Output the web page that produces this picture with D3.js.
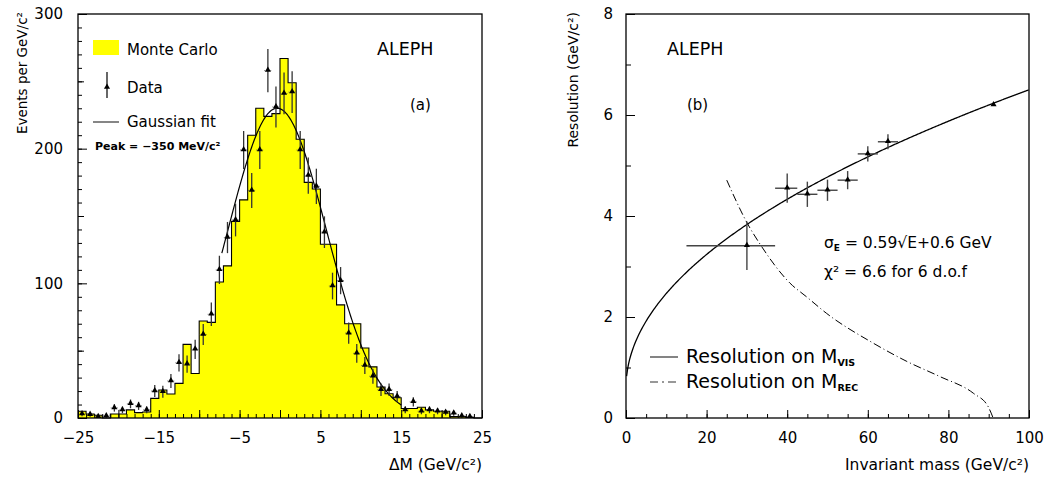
<!DOCTYPE html>
<html>
<head>
<meta charset="utf-8">
<script src="https://cdn.jsdelivr.net/npm/d3@7"></script>
<style>
  body { margin: 0; background: #fff; }
  text { font-family: "DejaVu Sans", sans-serif; fill: #000; }
</style>
</head>
<body>
<svg id="chart" width="1046" height="477"></svg>
<script>
// ---- panel (a): Delta M histogram, 1 GeV bins from -25 to 25 ----
var binLow = d3.range(-25, 25);
var mcCounts = [5, 3, 2, 0, 3, 3, 6, 4, 4.5, 14.6,
                20.8, 17.8, 25.7, 54.7, 33, 72, 71, 101, 113, 146,
                162, 210, 230, 224, 226, 267, 249, 207, 175, 170,
                129, 129, 84, 70, 70, 52, 38, 23, 18, 15,
                7, 7, 8, 6, 5, 5, 1, 1, 0.5, 0];
var dataCounts = [3, 2.5, 1, 1.5, 7.5, 6, 10.5, 9, 6, 20,
                  19.5, 27.5, 41, 40, 51, 62, 77, 110, 134, 147,
                  199, 169, 199, 258, 231, 241, 242, 199, 180, 172,
                  138, 98, 102, 63, 48, 39, 31, 21, 21, 16,
                  6, 12, 5, 6, 5, 4, 3.5, 1.5, 1, null];
// gaussian fit parameters (peak = -350 MeV)
var fitAmp = 230, fitMean = -0.35, fitSigma = 6.1, fitRange = [-7.2, 15];

// ---- panel (b): resolution vs invariant mass ----
var massPts = [30, 40, 45, 50, 55, 60, 65, 91.2];
var massLo  = [15, 37, 42.5, 47.5, 52.5, 57.5, 62.5, 91.2];
var massHi  = [37, 42.5, 47.5, 52.5, 57.5, 62.5, 67.5, 91.2];
var resVals = [3.41, 4.55, 4.43, 4.51, 4.71, 5.23, 5.47, 6.2];
var resErr  = [0.48, 0.29, 0.25, 0.21, 0.18, 0.15, 0.15, 0];
// resolution on M_REC (dash-dotted curve)
var recMass = [25, 30, 33.7, 40.7, 44.8, 49.8, 61.4, 69.7, 77.9, 86.2, 89.9, 91.1];
var recRes  = [4.71, 3.87, 3.39, 2.67, 2.40, 2.07, 1.48, 1.12, 0.82, 0.49, 0.22, 0];
var visA = 0.59, visB = 0.6;

var svg = d3.select("#chart");

// ================= panel (a) =================
var xL = d3.scaleLinear().domain([-25, 25]).range([78, 482]);
var yL = d3.scaleLinear().domain([0, 300]).range([418, 14]);

var gA = svg.append("g");

// histogram: step points incl. closing edge
var stepPts = binLow.map(function(b, i) { return [b, mcCounts[i]]; });
stepPts.push([25, mcCounts[mcCounts.length - 1]]);

gA.append("path")
  .datum(stepPts)
  .attr("fill", "#ffff00")
  .attr("d", d3.area().curve(d3.curveStepAfter)
      .x(function(d) { return xL(d[0]); })
      .y0(yL(0))
      .y1(function(d) { return yL(d[1]); }));

gA.append("path")
  .datum(stepPts)
  .attr("fill", "none")
  .attr("stroke", "#000")
  .attr("stroke-width", 1.1)
  .attr("d", d3.line().curve(d3.curveStepAfter)
      .x(function(d) { return xL(d[0]); })
      .y(function(d) { return yL(d[1]); }));

// gaussian fit
var gaussPts = d3.range(fitRange[0], fitRange[1] + 0.001, 0.1).map(function(x) {
  return [x, fitAmp * Math.exp(-(x - fitMean) * (x - fitMean) / (2 * fitSigma * fitSigma))];
});
gA.append("path")
  .datum(gaussPts)
  .attr("fill", "none")
  .attr("stroke", "#000")
  .attr("stroke-width", 1.2)
  .attr("d", d3.line()
      .x(function(d) { return xL(d[0]); })
      .y(function(d) { return yL(d[1]); }));

// data points
var tri = d3.symbol().type(d3.symbolTriangle).size(16);
var pts = binLow.map(function(b, i) { return { x: b + 0.5, y: dataCounts[i] }; })
  .filter(function(d) { return d.y !== null; });

var ptG = gA.selectAll(".pt").data(pts).enter().append("g")
  .attr("class", "pt");
ptG.append("line")
  .attr("x1", function(d) { return xL(d.x); })
  .attr("x2", function(d) { return xL(d.x); })
  .attr("y1", function(d) { return yL(Math.max(0, d.y - Math.sqrt(d.y))); })
  .attr("y2", function(d) { return yL(d.y + Math.sqrt(d.y)); })
  .attr("stroke", "#333")
  .attr("stroke-width", 1.3);
ptG.append("line")
  .attr("x1", function(d) { return xL(d.x - 0.45); })
  .attr("x2", function(d) { return xL(d.x + 0.45); })
  .attr("y1", function(d) { return yL(d.y); })
  .attr("y2", function(d) { return yL(d.y); })
  .attr("stroke", "#555")
  .attr("stroke-width", 0.8)
  .attr("stroke-dasharray", "1,2");
ptG.append("path")
  .attr("d", tri)
  .attr("transform", function(d) { return "translate(" + xL(d.x) + "," + (yL(d.y) - 0.5) + ")"; })
  .attr("fill", "#000");

// axes (ticks pointing inside)
gA.append("g")
  .attr("transform", "translate(0,418)")
  .call(d3.axisBottom(xL).tickValues(d3.range(-25, 26, 1)).tickSize(-4).tickFormat(""))
  .call(function(g) { g.select(".domain").remove(); });
gA.append("g")
  .attr("transform", "translate(0,418)")
  .call(d3.axisBottom(xL).tickValues(d3.range(-25, 26, 5)).tickSizeInner(-8).tickSizeOuter(0).tickPadding(14)
      .tickFormat(function(d) { return (d + 25) % 10 === 0 ? d3.format("d")(d) : ""; }))
  .call(function(g) { g.select(".domain").remove(); g.selectAll("text").style("font-size", "15px"); });

gA.append("g")
  .attr("transform", "translate(78,0)")
  .call(d3.axisLeft(yL).tickValues(d3.range(0, 301, 10)).tickSize(-4).tickFormat(""))
  .call(function(g) { g.select(".domain").remove(); });
gA.append("g")
  .attr("transform", "translate(78,0)")
  .call(d3.axisLeft(yL).tickValues(d3.range(50, 300, 100)).tickSize(-6).tickFormat(""))
  .call(function(g) { g.select(".domain").remove(); });
gA.append("g")
  .attr("transform", "translate(78,0)")
  .call(d3.axisLeft(yL).tickValues([0, 100, 200, 300]).tickSizeInner(-9).tickSizeOuter(0).tickPadding(15))
  .call(function(g) { g.select(".domain").remove(); g.selectAll("text").style("font-size", "15px"); });

gA.selectAll(".tick line").attr("stroke", "#000");

gA.append("rect")
  .attr("x", 78).attr("y", 14).attr("width", 404).attr("height", 404)
  .attr("fill", "none").attr("stroke", "#000").attr("stroke-width", 1.3);

gA.append("text")
  .attr("transform", "translate(27,12) rotate(-90)")
  .attr("text-anchor", "end")
  .style("font-size", "13.5px")
  .text("Events per GeV/c²");
gA.append("text")
  .attr("x", 482).attr("y", 470)
  .attr("text-anchor", "end")
  .style("font-size", "15.5px")
  .text("ΔM (GeV/c²)");

// legend (a)
gA.append("rect").attr("x", 93).attr("y", 40).attr("width", 26).attr("height", 15)
  .attr("fill", "#ffff00");
gA.append("text").attr("x", 127).attr("y", 55).style("font-size", "15px").text("Monte Carlo");
gA.append("line").attr("x1", 107).attr("x2", 107).attr("y1", 72).attr("y2", 98)
  .attr("stroke", "#000").attr("stroke-width", 1.2);
gA.append("path").attr("d", tri).attr("transform", "translate(107,87)").attr("fill", "#000");
gA.append("text").attr("x", 127).attr("y", 93).style("font-size", "15px").text("Data");
gA.append("line").attr("x1", 93).attr("x2", 119).attr("y1", 122).attr("y2", 122)
  .attr("stroke", "#444").attr("stroke-width", 1.3);
gA.append("text").attr("x", 127).attr("y", 127).style("font-size", "15px").text("Gaussian fit");
gA.append("text").attr("x", 95).attr("y", 150)
  .style("font-size", "11px").style("font-weight", "bold")
  .text("Peak = −350 MeV/c²");

gA.append("text").attr("x", 377).attr("y", 55).style("font-size", "17.5px").text("ALEPH");
gA.append("text").attr("x", 410).attr("y", 110).style("font-size", "15px").text("(a)");

// ================= panel (b) =================
var xR = d3.scaleLinear().domain([0, 100]).range([626, 1029]);
var yR = d3.scaleLinear().domain([0, 8]).range([418, 14]);

var gB = svg.append("g");

// sigma_E = 0.59 sqrt(E) + 0.6 fit
var visPts = d3.range(0.15, 100.001, 0.25).map(function(e) {
  return [e, visA * Math.sqrt(e) + visB];
});
gB.append("path")
  .datum(visPts)
  .attr("fill", "none")
  .attr("stroke", "#000")
  .attr("stroke-width", 1.3)
  .attr("d", d3.line()
      .x(function(d) { return xR(d[0]); })
      .y(function(d) { return yR(d[1]); }));

gB.append("path")
  .datum(recMass.map(function(m, i) { return [m, recRes[i]]; }))
  .attr("fill", "none")
  .attr("stroke", "#000")
  .attr("stroke-width", 1)
  .attr("stroke-dasharray", "8,3,1,3")
  .attr("d", d3.line().curve(d3.curveMonotoneX)
      .x(function(d) { return xR(d[0]); })
      .y(function(d) { return yR(d[1]); }));

var rPts = massPts.map(function(m, i) {
  return { m: m, lo: massLo[i], hi: massHi[i], r: resVals[i], e: resErr[i] };
});
var rG = gB.selectAll(".rpt").data(rPts).enter().append("g").attr("class", "rpt");
rG.append("line")
  .attr("x1", function(d) { return xR(d.lo); })
  .attr("x2", function(d) { return xR(d.hi); })
  .attr("y1", function(d) { return yR(d.r); })
  .attr("y2", function(d) { return yR(d.r); })
  .attr("stroke", "#444").attr("stroke-width", 1.4);
rG.append("line")
  .attr("x1", function(d) { return xR(d.m); })
  .attr("x2", function(d) { return xR(d.m); })
  .attr("y1", function(d) { return yR(d.r - d.e); })
  .attr("y2", function(d) { return yR(d.r + d.e); })
  .attr("stroke", "#444").attr("stroke-width", 1.4);
rG.append("path")
  .attr("d", tri)
  .attr("transform", function(d) { return "translate(" + xR(d.m) + "," + (yR(d.r) - 0.5) + ")"; })
  .attr("fill", "#000");

gB.append("g")
  .attr("transform", "translate(0,418)")
  .call(d3.axisBottom(xR).tickValues(d3.range(0, 101, 5)).tickSize(-4).tickFormat(""))
  .call(function(g) { g.select(".domain").remove(); });
gB.append("g")
  .attr("transform", "translate(0,418)")
  .call(d3.axisBottom(xR).tickValues(d3.range(0, 101, 20)).tickSizeInner(-8).tickSizeOuter(0).tickPadding(14))
  .call(function(g) { g.select(".domain").remove(); g.selectAll("text").style("font-size", "15px"); });
gB.append("g")
  .attr("transform", "translate(626,0)")
  .call(d3.axisLeft(yR).tickValues(d3.range(0, 9, 1)).tickSize(-5).tickFormat(""))
  .call(function(g) { g.select(".domain").remove(); });
gB.append("g")
  .attr("transform", "translate(626,0)")
  .call(d3.axisLeft(yR).tickValues(d3.range(0, 9, 2)).tickSizeInner(-9).tickSizeOuter(0).tickPadding(13))
  .call(function(g) { g.select(".domain").remove(); g.selectAll("text").style("font-size", "15px"); });

gB.selectAll(".tick line").attr("stroke", "#000");

gB.append("rect")
  .attr("x", 626).attr("y", 14).attr("width", 403).attr("height", 404)
  .attr("fill", "none").attr("stroke", "#000").attr("stroke-width", 1.3);

gB.append("text")
  .attr("transform", "translate(578,12) rotate(-90)")
  .attr("text-anchor", "end")
  .style("font-size", "14px")
  .text("Resolution (GeV/c²)");
gB.append("text")
  .attr("x", 1029).attr("y", 470)
  .attr("text-anchor", "end")
  .style("font-size", "15.5px")
  .text("Invariant mass (GeV/c²)");

gB.append("text").attr("x", 667).attr("y", 55).style("font-size", "17.5px").text("ALEPH");
gB.append("text").attr("x", 687).attr("y", 110).style("font-size", "15px").text("(b)");

var sig = gB.append("text").attr("x", 824).attr("y", 248).style("font-size", "15.5px");
sig.append("tspan").text("σ");
sig.append("tspan").attr("dy", 3).style("font-size", "9px").style("font-weight", "bold").text("E");
sig.append("tspan").attr("dy", -3).text(" = 0.59√E+0.6 GeV");
gB.append("text").attr("x", 824).attr("y", 277).style("font-size", "15.5px").text("χ² = 6.6 for 6 d.o.f");

// legend (b)
gB.append("line").attr("x1", 650).attr("x2", 678).attr("y1", 357).attr("y2", 357)
  .attr("stroke", "#333").attr("stroke-width", 1.2);
var l1 = gB.append("text").attr("x", 686).attr("y", 363).style("font-size", "19px");
l1.append("tspan").text("Resolution on M");
l1.append("tspan").attr("dy", 3).style("font-size", "9.5px").style("font-weight", "bold").text("VIS");
gB.append("line").attr("x1", 650).attr("x2", 678).attr("y1", 382).attr("y2", 382)
  .attr("stroke", "#333").attr("stroke-width", 1.2).attr("stroke-dasharray", "8,4,2,4");
var l2 = gB.append("text").attr("x", 686).attr("y", 388).style("font-size", "19px");
l2.append("tspan").text("Resolution on M");
l2.append("tspan").attr("dy", 3).style("font-size", "9.5px").style("font-weight", "bold").text("REC");
</script>
</body>
</html>
